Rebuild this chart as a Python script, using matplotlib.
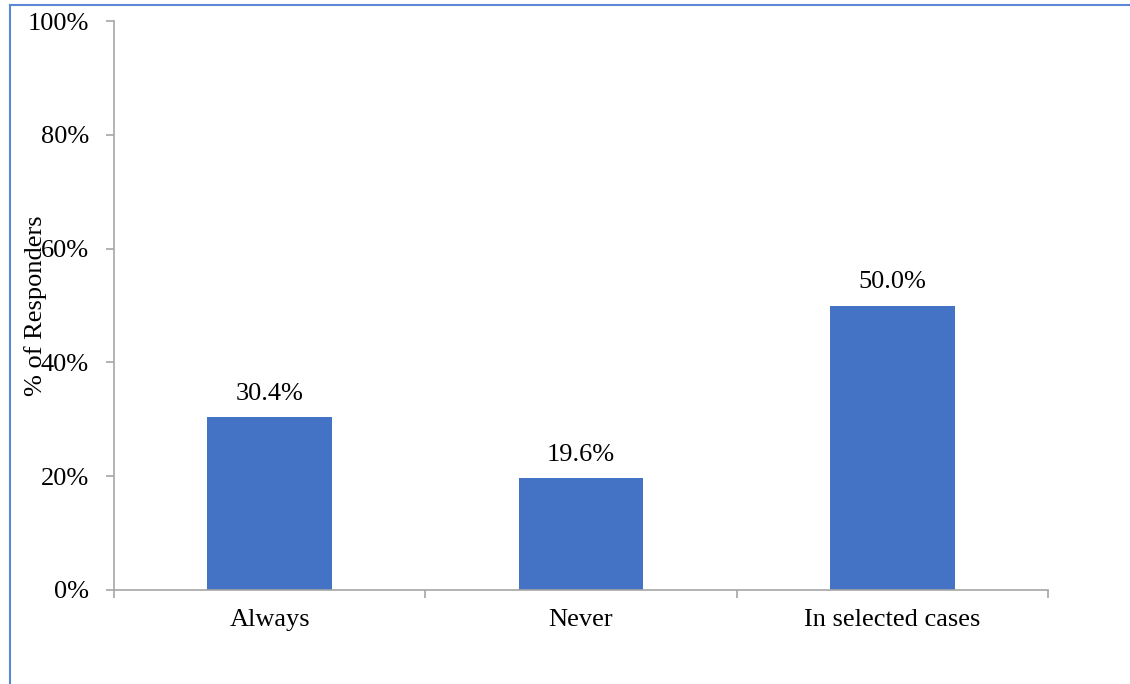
import matplotlib.pyplot as plt
from matplotlib.lines import Line2D
from matplotlib.ticker import FuncFormatter, FixedLocator

categories = ['Always', 'Never', 'In selected cases']
values = [30.4, 19.6, 50.0]
yticks = [0, 20, 40, 60, 80, 100]

plt.rcParams['font.family'] = ['Liberation Serif', 'DejaVu Serif']
FS = 19

fig = plt.figure(figsize=(11.3, 6.84), dpi=100)
ax = fig.add_axes([114 / 1130, 1 - 590 / 684, (1048 - 114) / 1130, (590 - 21) / 684])

x = list(range(len(categories)))
bars = ax.bar(x, values, width=0.4, color='#4472C4', zorder=2)

for b, v in zip(bars, values):
    ax.annotate(f'{v:.1f}%', (b.get_x() + b.get_width() / 2, v),
                xytext=(0, 9), textcoords='offset points',
                ha='center', va='bottom', fontsize=FS)

ax.set_xlim(-0.5, len(categories) - 0.5)
ax.set_ylim(0, 100)
ax.set_yticks(yticks)
ax.yaxis.set_major_formatter(FuncFormatter(lambda v, p: f'{v:.0f}%'))

# category labels centred, ticks on the boundaries
ax.set_xticks(x)
ax.set_xticklabels(categories, fontsize=FS)
ax.tick_params(axis='x', which='major', length=0, pad=14)
ax.xaxis.set_minor_locator(FixedLocator([i - 0.5 for i in range(len(categories) + 1)]))
ax.tick_params(axis='x', which='minor', length=6, width=1.2, color='#A6A6A6', direction='out')
ax.tick_params(axis='y', length=6, width=1.2, color='#A6A6A6', direction='out', labelsize=FS, pad=12)

for s in ['top', 'right']:
    ax.spines[s].set_visible(False)
for s in ['left', 'bottom']:
    ax.spines[s].set_color('#A6A6A6')
    ax.spines[s].set_linewidth(1.2)

ax.set_ylabel('% of Responders', fontsize=FS)
ax.yaxis.set_label_coords((47 - 114) / (1048 - 114), 0.5)

# thin blue frame at left and top
fig.add_artist(Line2D([10 / 1130, 10 / 1130], [0, 1 - 5 / 684], transform=fig.transFigure,
                      color='#5B87D6', linewidth=1.5))
fig.add_artist(Line2D([10 / 1130, 1], [1 - 5 / 684, 1 - 5 / 684], transform=fig.transFigure,
                      color='#5B87D6', linewidth=1.5))

fig.savefig('out.png', dpi=100)
